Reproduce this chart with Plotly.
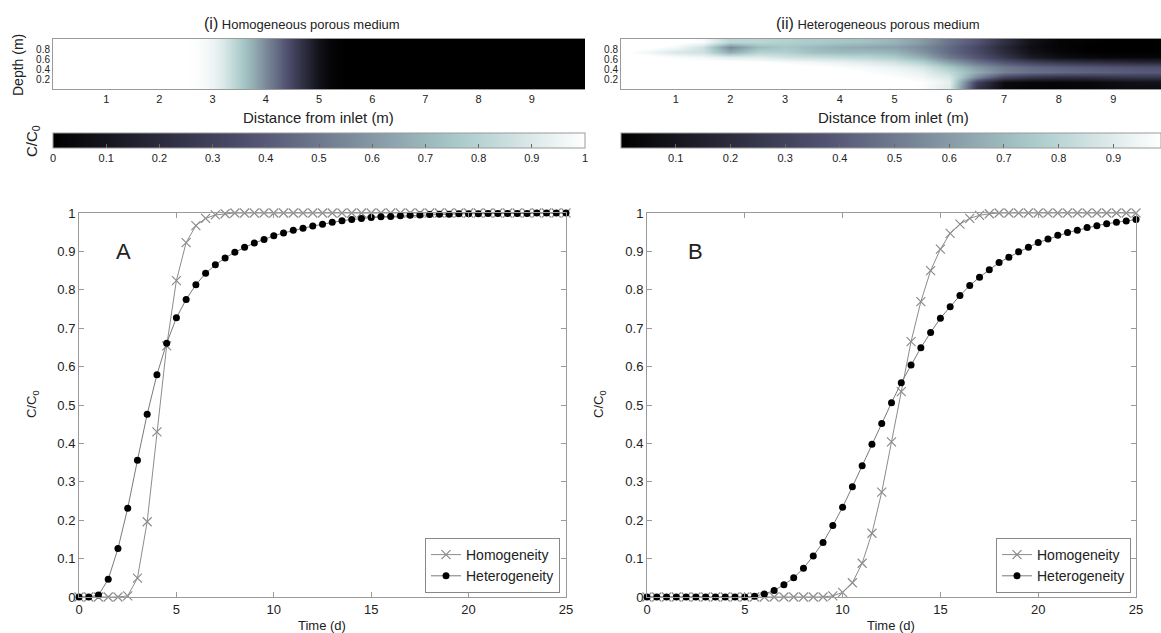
import plotly.graph_objects as go

# ---------------- data ----------------
time_d = [0, 0.5, 1, 1.5, 2, 2.5, 3, 3.5, 4, 4.5, 5, 5.5, 6, 6.5, 7, 7.5, 8, 8.5, 9, 9.5,
          10, 10.5, 11, 11.5, 12, 12.5, 13, 13.5, 14, 14.5, 15, 15.5, 16, 16.5, 17, 17.5,
          18, 18.5, 19, 19.5, 20, 20.5, 21, 21.5, 22, 22.5, 23, 23.5, 24, 24.5, 25]

a_homog = [0, 0, 0, 0, 0, 0.003, 0.049, 0.196, 0.43, 0.654, 0.824, 0.923, 0.967, 0.986, 0.995, 0.998,
           1, 1, 1, 1, 1, 1, 1, 1, 1, 1, 1, 1, 1, 1, 1, 1, 1, 1, 1, 1,
           1, 1, 1, 1, 1, 1, 1, 1, 1, 1, 1, 1, 1, 1, 1]
a_heter = [0, 0, 0.005, 0.046, 0.126, 0.231, 0.356, 0.476, 0.579, 0.661, 0.727, 0.775, 0.813, 0.843,
           0.865, 0.883, 0.898, 0.911, 0.922, 0.931, 0.941, 0.948, 0.955, 0.96, 0.966, 0.971, 0.976,
           0.98, 0.983, 0.986, 0.988, 0.99, 0.991, 0.993, 0.994, 0.995, 0.996, 0.997, 0.997, 0.998,
           0.998, 0.998, 0.999, 0.999, 0.999, 0.999, 0.999, 1, 1, 1, 1]

b_homog = [0, 0, 0, 0, 0, 0, 0, 0, 0, 0, 0, 0, 0, 0, 0, 0, 0, 0, 0,
           0.003, 0.012, 0.037, 0.088, 0.166, 0.273, 0.404, 0.535, 0.665, 0.769, 0.85, 0.906,
           0.947, 0.971, 0.986, 0.994, 0.998,
           1, 1, 1, 1, 1, 1, 1, 1, 1, 1, 1, 1, 1, 1, 1]
b_heter = [0, 0, 0, 0, 0, 0, 0, 0, 0, 0, 0, 0.002, 0.008, 0.017, 0.032, 0.05, 0.075, 0.107, 0.142,
           0.186, 0.234, 0.287, 0.342, 0.398, 0.452, 0.506, 0.558, 0.604, 0.649, 0.689, 0.726,
           0.756, 0.785, 0.811, 0.833, 0.852, 0.871, 0.885, 0.899, 0.911, 0.923, 0.932, 0.942,
           0.949, 0.955, 0.962, 0.967, 0.972, 0.976, 0.979, 0.983]

# homogeneous field: concentration profile along distance (same at every depth)
hom_dist = [0, 0.5, 1, 1.5, 2, 2.5, 2.75, 3, 3.25, 3.5, 3.75, 4, 4.25, 4.5, 4.75, 5, 5.25, 5.5,
            6, 7, 8, 9, 10]
hom_conc = [1, 1, 1, 1, 1, 1, 0.99, 0.95, 0.88, 0.78, 0.67, 0.55, 0.44, 0.32, 0.19, 0.08, 0.02, 0,
            0, 0, 0, 0, 0]
hom_depth = [0, 1]

# heterogeneous field
het_dist = [0, 0.5, 1, 1.5, 2, 2.5, 3, 3.5, 4, 4.5, 5, 5.5, 6, 6.5, 7, 7.5, 8, 8.5, 9, 9.5, 10, 10.5, 11]
het_depth = [0.05, 0.15, 0.25, 0.35, 0.45, 0.55, 0.65, 0.75, 0.85, 0.95]
het_conc = [
    [1, 1, 1, 1, 1, 1, 1, 1, 1, 1, 1, 0.98, 0.9, 0.25, 0.04, 0.02, 0.02, 0.03, 0.05, 0.06, 0.06, 0.06, 0.06],
    [1, 1, 1, 1, 1, 1, 1, 1, 1, 1, 1, 0.98, 0.92, 0.3, 0.06, 0.03, 0.03, 0.04, 0.06, 0.08, 0.08, 0.08, 0.08],
    [1, 1, 1, 1, 1, 1, 1, 1, 1, 1, 0.98, 0.95, 0.88, 0.55, 0.32, 0.25, 0.22, 0.22, 0.24, 0.25, 0.25, 0.25, 0.25],
    [1, 1, 1, 1, 1, 1, 1, 1, 1, 0.98, 0.96, 0.92, 0.82, 0.65, 0.52, 0.47, 0.45, 0.43, 0.42, 0.4, 0.4, 0.4, 0.4],
    [1, 1, 1, 1, 1, 1, 1, 1, 0.98, 0.96, 0.93, 0.88, 0.75, 0.6, 0.5, 0.45, 0.42, 0.4, 0.38, 0.37, 0.36, 0.36, 0.36],
    [1, 1, 1, 1, 1, 0.99, 0.97, 0.95, 0.93, 0.9, 0.86, 0.78, 0.62, 0.48, 0.38, 0.3, 0.25, 0.22, 0.2, 0.18, 0.18, 0.18, 0.18],
    [1, 1, 0.97, 0.95, 0.9, 0.9, 0.86, 0.84, 0.82, 0.8, 0.76, 0.66, 0.5, 0.38, 0.25, 0.12, 0.06, 0.04, 0.03, 0.03, 0.03, 0.03, 0.03],
    [1, 0.95, 0.88, 0.85, 0.65, 0.78, 0.78, 0.72, 0.7, 0.7, 0.68, 0.58, 0.45, 0.34, 0.2, 0.08, 0.03, 0.01, 0, 0, 0, 0, 0],
    [1, 1, 0.96, 0.85, 0.55, 0.7, 0.74, 0.7, 0.66, 0.64, 0.62, 0.55, 0.45, 0.33, 0.18, 0.06, 0.02, 0, 0, 0, 0, 0, 0],
    [1, 1, 1, 0.97, 0.8, 0.8, 0.78, 0.76, 0.74, 0.72, 0.68, 0.6, 0.48, 0.38, 0.22, 0.08, 0.02, 0.01, 0, 0, 0, 0, 0],
]

cbar_vals = [0, 0.1, 0.2, 0.3, 0.4, 0.5, 0.6, 0.7, 0.8, 0.9, 1]
cbar_text = ["0", "0.1", "0.2", "0.3", "0.4", "0.5", "0.6", "0.7", "0.8", "0.9", "1"]
y_ticks = [0, 0.1, 0.2, 0.3, 0.4, 0.5, 0.6, 0.7, 0.8, 0.9, 1]
y_text = ["0", "0.1", "0.2", "0.3", "0.4", "0.5", "0.6", "0.7", "0.8", "0.9", "1"]
x_ticks = [0, 5, 10, 15, 20, 25]

# ---------------- figure ----------------
W, H = 1161, 633
def px(x): return x / W
def py(y): return 1 - y / H

bone = [[0, "rgb(0,0,0)"], [0.375, "rgb(81,81,113)"], [0.75, "rgb(166,199,199)"], [1, "rgb(255,255,255)"]]
FONT = "Liberation Sans, Arial, sans-serif"
TXT = "#222"
LINE = "#9a9a9a"

fig = go.Figure()

fig.add_trace(go.Heatmap(x=hom_dist, y=hom_depth, z=[hom_conc, hom_conc], coloraxis="coloraxis",
                         zsmooth="best", xaxis="x", yaxis="y", hoverinfo="skip"))
fig.add_trace(go.Heatmap(x=het_dist, y=het_depth, z=het_conc, coloraxis="coloraxis2",
                         zsmooth="best", xaxis="x2", yaxis="y2", hoverinfo="skip"))

hom_style = dict(mode="lines+markers", line=dict(color="#8c8c8c", width=1),
                 marker=dict(symbol="x-thin", size=9, color="#8c8c8c",
                             line=dict(color="#8c8c8c", width=1.2)),
                 cliponaxis=False)
het_style = dict(mode="lines+markers", line=dict(color="#7a7a7a", width=1),
                 marker=dict(symbol="circle", size=7, color="black"),
                 cliponaxis=False)

fig.add_trace(go.Scatter(x=time_d, y=a_homog, name="Homogeneity", xaxis="x3", yaxis="y3",
                         legend="legend", **hom_style))
fig.add_trace(go.Scatter(x=time_d, y=a_heter, name="Heterogeneity", xaxis="x3", yaxis="y3",
                         legend="legend", **het_style))
fig.add_trace(go.Scatter(x=time_d, y=b_homog, name="Homogeneity", xaxis="x4", yaxis="y4",
                         legend="legend2", **hom_style))
fig.add_trace(go.Scatter(x=time_d, y=b_heter, name="Heterogeneity", xaxis="x4", yaxis="y4",
                         legend="legend2", **het_style))

def cbar(x0, x1, vals, texts):
    return dict(orientation="h", x=px(x0), xanchor="left", y=py(133), yanchor="top",
                len=(x1 - x0) / W, lenmode="fraction", thickness=15, thicknessmode="pixels",
                outlinecolor=LINE, outlinewidth=1, tickvals=vals, ticktext=texts,
                ticks="inside", ticklen=4, tickcolor="#666",
                tickfont=dict(size=11, color=TXT, family=FONT), xpad=0, ypad=0)

heat_x = dict(showline=True, mirror=True, linecolor=LINE, ticks="", showgrid=False, zeroline=False,
              tickvals=[1, 2, 3, 4, 5, 6, 7, 8, 9], tickfont=dict(size=11, color=TXT))
heat_y = dict(showline=True, linecolor=LINE, ticks="", showgrid=False, zeroline=False, range=[0, 1],
              tickvals=[0.2, 0.4, 0.6, 0.8], tickfont=dict(size=10, color=TXT))

plot_x = dict(showline=True, mirror="ticks", linecolor=LINE, ticks="inside", ticklen=5, tickcolor=LINE,
              showgrid=False, zeroline=False, range=[0, 25], tickvals=x_ticks,
              tickfont=dict(size=13, color=TXT))
plot_y = dict(showline=True, mirror="ticks", linecolor=LINE, ticks="inside", ticklen=5, tickcolor=LINE,
              showgrid=False, zeroline=False, range=[0, 1], tickvals=y_ticks, ticktext=y_text,
              tickfont=dict(size=13, color=TXT))

leg = dict(bgcolor="white", bordercolor="#888", borderwidth=1, font=dict(size=14, color=TXT, family=FONT),
           xanchor="right", yanchor="bottom", tracegroupgap=0, itemwidth=30)

fig.update_layout(
    width=W, height=H, margin=dict(l=0, r=0, t=0, b=0, autoexpand=False),
    paper_bgcolor="white", plot_bgcolor="white",
    font=dict(family=FONT, color=TXT),
    coloraxis=dict(colorscale=bone, cmin=0, cmax=1, colorbar=cbar(53, 585, cbar_vals, cbar_text)),
    coloraxis2=dict(colorscale=bone, cmin=0, cmax=0.987,
                    colorbar=cbar(621, 1161, cbar_vals[1:10], cbar_text[1:10])),
    xaxis=dict(domain=[px(53), px(585)], range=[0, 10], anchor="y", **heat_x),
    yaxis=dict(domain=[py(89), py(39)], anchor="x", **heat_y),
    xaxis2=dict(domain=[px(621), 1.0], range=[0, 9.87], anchor="y2", **heat_x),
    yaxis2=dict(domain=[py(89), py(39)], anchor="x2", **heat_y),
    xaxis3=dict(domain=[px(79), px(566)], anchor="y3", **plot_x),
    yaxis3=dict(domain=[py(597), py(213)], anchor="x3", **plot_y),
    xaxis4=dict(domain=[px(647), px(1136)], anchor="y4", **plot_x),
    yaxis4=dict(domain=[py(597), py(213)], anchor="x4", **plot_y),
    legend=dict(x=px(560), y=py(593), **leg),
    legend2=dict(x=px(1131), y=py(593), **leg),
    showlegend=True,
)

ann = []
def A(text, x, y, size, angle=0, xref="paper", yref="paper", yanchor="middle"):
    ann.append(dict(text=text, x=x, y=y, xref=xref, yref=yref, showarrow=False,
                    textangle=angle, font=dict(size=size, color=TXT, family=FONT),
                    xanchor="center", yanchor=yanchor))

A("<span style='font-size:16px'>(i)</span> Homogeneous porous medium", px(302), py(24), 13)
A("<span style='font-size:16px'>(ii)</span> Heterogeneous porous medium", px(878), py(24), 13)
A("Depth (m)", px(18), py(65), 14, -90)
A("Distance from inlet (m)", px(318), py(117), 15)
A("Distance from inlet (m)", px(893), py(117), 15)
A("C/C<sub>0</sub>", px(33), py(141), 15, -90)
A("A", 2.3, 0.9, 22, xref="x3", yref="y3")
A("B", 2.5, 0.9, 22, xref="x4", yref="y4")
A("Time (d)", px(322), py(625), 13)
A("Time (d)", px(891), py(625), 13)
A("C/C<sub>0</sub>", px(33), py(405), 13, -90)
A("C/C<sub>0</sub>", px(600), py(405), 13, -90)
fig.update_layout(annotations=ann)

fig.write_html("out.html", config={"displayModeBar": False},
               post_script="document.body.style.margin='0';document.body.style.padding='0';"
                           "document.body.style.overflow='hidden';")
